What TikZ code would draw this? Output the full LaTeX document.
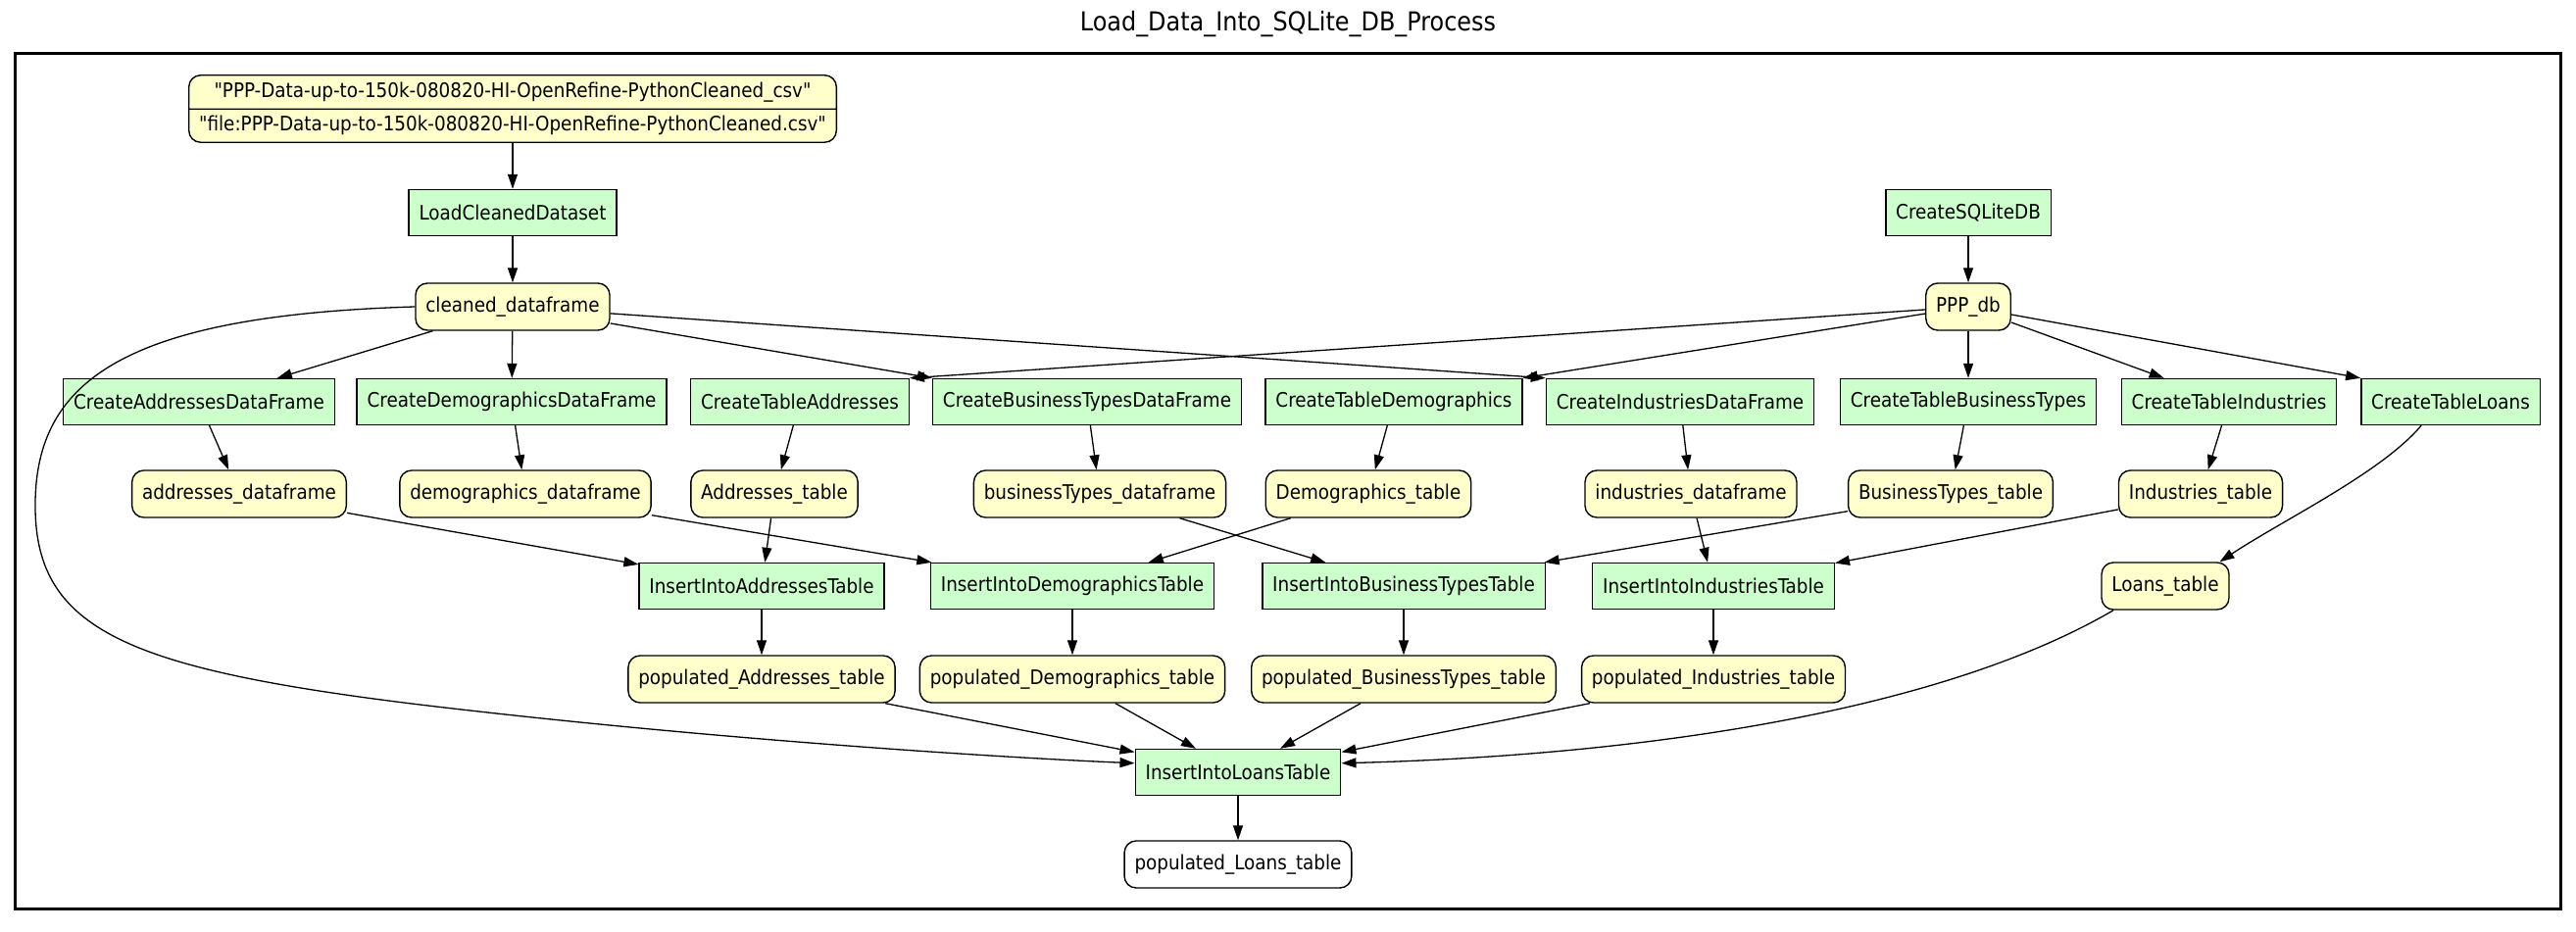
\documentclass[tikz,border=0pt]{standalone}
\usepackage{fontspec}
\setmainfont{DejaVu Sans Condensed}
\usetikzlibrary{arrows.meta,shapes.multipart}

\definecolor{procfill}{HTML}{CCFFCC}
\definecolor{datafill}{HTML}{FFFFCC}

\begin{document}
\begin{tikzpicture}[x=0.5pt,y=-0.5pt,
  font=\fontsize{10.2}{12}\selectfont,
  proc/.style={draw, line width=0.7pt, fill=procfill, minimum height=23.5pt, inner xsep=5.2pt, inner ysep=2pt},
  dat/.style={draw, line width=0.7pt, fill=datafill, rounded corners=6pt, minimum height=24pt, inner xsep=5.2pt, inner ysep=2pt},
  outdat/.style={dat, fill=white},
  edge/.style={line width=0.65pt, -{Triangle[length=7.5pt,width=5pt]}},
]
\useasboundingbox (0,0) rectangle (2628,951);

% cluster frame and title
\draw[line width=1.5pt] (15,55) rectangle (2612,927);
\node[font=\fontsize{13.3}{16}\selectfont] (title) at (1314,25) {Load\_Data\_Into\_SQLite\_DB\_Process};

% input file record
\node[rectangle split, rectangle split parts=2, draw, fill=datafill, rounded corners=6pt,
      line width=0.7pt, inner xsep=5.2pt, inner ysep=3.2pt] (csv) at (523,111)
  {\textquotedbl PPP-Data-up-to-150k-080820-HI-OpenRefine-PythonCleaned\_csv\textquotedbl
   \nodepart{two}\textquotedbl file:PPP-Data-up-to-150k-080820-HI-OpenRefine-PythonCleaned.csv\textquotedbl};

% loading and database creation
\node[proc] (lcd) at (523,217) {LoadCleanedDataset};
\node[proc] (csdb) at (2008,217) {CreateSQLiteDB};
\node[dat] (cdf) at (523,313) {cleaned\_dataframe};
\node[dat] (db) at (2008,313) {PPP\_db};

% creation steps
\node[proc] (cadf) at (203,410) {CreateAddressesDataFrame};
\node[proc] (cddf) at (522,410) {CreateDemographicsDataFrame};
\node[proc] (cta) at (816,410) {CreateTableAddresses};
\node[proc] (cbdf) at (1109,410) {CreateBusinessTypesDataFrame};
\node[proc] (ctd) at (1422,410) {CreateTableDemographics};
\node[proc] (cidf) at (1714,410) {CreateIndustriesDataFrame};
\node[proc] (ctb) at (2008,410) {CreateTableBusinessTypes};
\node[proc] (cti) at (2274,410) {CreateTableIndustries};
\node[proc] (ctl) at (2500,410) {CreateTableLoans};

% intermediate data
\node[dat] (adf) at (244,504) {addresses\_dataframe};
\node[dat] (ddf) at (536,504) {demographics\_dataframe};
\node[dat] (at) at (790,504) {Addresses\_table};
\node[dat] (bdf) at (1122,504) {businessTypes\_dataframe};
\node[dat] (dt) at (1396,504) {Demographics\_table};
\node[dat] (idf) at (1725,504) {industries\_dataframe};
\node[dat] (bt) at (1990,504) {BusinessTypes\_table};
\node[dat] (it) at (2245,504) {Industries\_table};

% insert steps
\node[proc] (iat) at (777,598) {InsertIntoAddressesTable};
\node[proc] (idt) at (1094,598) {InsertIntoDemographicsTable};
\node[proc] (ibt) at (1432,598) {InsertIntoBusinessTypesTable};
\node[proc] (iit) at (1748,598) {InsertIntoIndustriesTable};
\node[dat] (lt) at (2209,598) {Loans\_table};

% populated tables
\node[dat] (pat) at (777,693) {populated\_Addresses\_table};
\node[dat] (pdt) at (1094,693) {populated\_Demographics\_table};
\node[dat] (pbt) at (1432,693) {populated\_BusinessTypes\_table};
\node[dat] (pit) at (1748,693) {populated\_Industries\_table};

\node[proc] (ilt) at (1263,788) {InsertIntoLoansTable};
\node[outdat] (plt) at (1263,882) {populated\_Loans\_table};

% connectors
\draw[edge] (csv) -- (lcd);
\draw[edge] (lcd) -- (cdf);
\draw[edge] (csdb) -- (db);

\draw[edge] (cdf) -- (cadf);
\draw[edge] (cdf) -- (cddf);
\draw[edge] (cdf) -- (cbdf.north west);
\draw[edge] (cdf) -- (cidf.north west);
\draw[edge] (cdf.west) .. controls (120,322) and (34,392) .. (36,520)
                       .. controls (38,642) and (130,682) .. (420,718)
                       .. controls (700,752) and (1000,772) .. (ilt.175);

\draw[edge] (db) -- (cta.north east);
\draw[edge] (db) -- (ctd.north east);
\draw[edge] (db) -- (ctb);
\draw[edge] (db) -- (cti);
\draw[edge] (db) -- (ctl.north west);

\draw[edge] (cadf) -- (adf);
\draw[edge] (cddf) -- (ddf);
\draw[edge] (cta) -- (at);
\draw[edge] (cbdf) -- (bdf);
\draw[edge] (ctd) -- (dt);
\draw[edge] (cidf) -- (idf);
\draw[edge] (ctb) -- (bt);
\draw[edge] (cti) -- (it);
\draw[edge] (ctl.219) .. controls (2430,482) and (2330,530) .. (lt.24);

\draw[edge] (adf) -- (iat);
\draw[edge] (at) -- (iat);
\draw[edge] (ddf) -- (idt);
\draw[edge] (dt) -- (idt);
\draw[edge] (bdf) -- (ibt);
\draw[edge] (bt) -- (ibt);
\draw[edge] (idf) -- (iit);
\draw[edge] (it) -- (iit);

\draw[edge] (iat) -- (pat);
\draw[edge] (idt) -- (pdt);
\draw[edge] (ibt) -- (pbt);
\draw[edge] (iit) -- (pit);

\draw[edge] (pat) -- (ilt);
\draw[edge] (pdt) -- (ilt);
\draw[edge] (pbt) -- (ilt);
\draw[edge] (pit) -- (ilt);
\draw[edge] (lt.205) .. controls (1990,720) and (1700,770) .. (ilt.5);

\draw[edge] (ilt) -- (plt);
\end{tikzpicture}
\end{document}
